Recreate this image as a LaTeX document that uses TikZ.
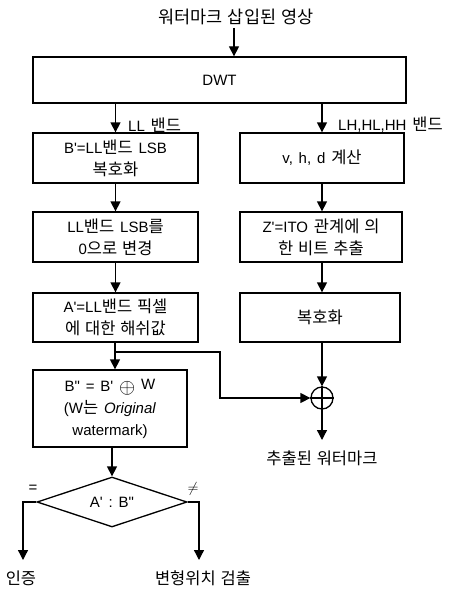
\documentclass[tikz,border=0pt]{standalone}
\usepackage{fontspec}
\setmainfont{Liberation Sans}[WordSpace=1.4,Ligatures=TeXOff]
\newfontfamily\krf{Noto Sans CJK KR}[WordSpace=1.3]
\newcommand{\kr}[1]{{\krf\fontsize{16.5}{22}\selectfont #1}}
\usetikzlibrary{arrows.meta,shapes.geometric}
\begin{document}
\begin{tikzpicture}[x=1pt,y=-1pt,
  box/.style={draw,line width=1.3pt,minimum width=165pt,minimum height=50pt,inner sep=0pt,align=center,font=\fontsize{15}{22}\selectfont},
  arr/.style={line width=1.3pt,-{Triangle[width=10pt,length=10pt]}},
  ln/.style={line width=1.3pt},
  lbl/.style={font=\fontsize{15}{16}\selectfont,inner sep=0pt}]
\useasboundingbox (0,0) rectangle (458,594);
\node[lbl] (title) at (236,17) {{\krf\fontsize{17.5}{20}\selectfont 워터마크 삽입된 영상}};
\node[box,minimum width=373pt,minimum height=46pt] (dwt) at (219.5,80) {DWT};
\node[box] (b1) at (115.5,158) {B'=LL\kr{밴드} LSB\\\kr{복호화}};
\node[box,minimum width=164pt] (r1) at (322,158) {v, h, d \kr{계산}};
\node[box] (b2) at (115.5,237) {LL\kr{밴드} LSB\kr{를}\\0\kr{으로 변경}};
\node[box,minimum width=162pt] (r2) at (321,237) {Z'=ITO \kr{관계에 의}\\\kr{한 비트 추출}};
\node[box,minimum height=49pt] (b3) at (115.5,317.5) {A'=LL\kr{밴드 픽셀}\\\kr{에 대한 해쉬값}};
\node[box,minimum width=160pt,minimum height=49pt] (r3) at (320,317.5) {\kr{복호화}};
\node[box,minimum width=154pt,minimum height=77pt] (b4) at (110,408.5) {B" = B' \raisebox{-2pt}{\fontsize{22}{22}\selectfont$\oplus$} \raisebox{2pt}{W}\\(W\kr{는} \textit{Original}\\watermark)};
\node[draw,circle,line width=1.3pt,minimum size=22pt,inner sep=0pt] (xor) at (322,398) {};
\draw[ln] (xor.north) -- (xor.south) (xor.west) -- (xor.east);
\node[lbl] (out) at (322,458) {\kr{추출된 워터마크}};
\node[draw,diamond,line width=1.3pt,shape aspect=3,minimum width=150pt,minimum height=50pt,inner sep=0pt,font=\fontsize{15}{16}\selectfont] (dia) at (112,502) {A' : B"};
\node[lbl,anchor=west] (llbl) at (128,125) {LL \kr{밴드}};
\node[lbl,anchor=west] (rlbl) at (338,125) {LH,HL,HH \kr{밴드}};
\node[lbl] (eq) at (33,489) {=};
\node[lbl] (ne) at (193,489) {$\neq$};
\node[lbl] (auth) at (21,578) {\kr{인증}};
\node[lbl] (det) at (203,578) {\kr{변형위치 검출}};
\coordinate (tin) at (234,28);
\coordinate (br) at (115,352);
\coordinate (bk) at (220,352);
\coordinate (lend) at (23,560);
\coordinate (rend) at (199,560);
\draw[arr] (tin) -- (dwt.north -| tin);
\draw[arr] (dwt.south -| b1) -- (b1.north);
\draw[arr] (dwt.south -| r1) -- (r1.north);
\draw[arr] (b1) ++(0,25) -- (b2.north);
\draw[arr] (b2) ++(0,25) -- (b3.north);
\draw[arr] (r1.south -| xor) -- (r2.north -| xor);
\draw[arr] (r2.south -| xor) -- (r3.north -| xor);
\draw[arr] (b3.south -| br) -- (b4.north -| br);
\draw[arr] (br) -- (bk) |- (xor.west);
\draw[arr] (r3.south -| xor) -- (xor.north);
\draw[arr] (xor.south) -- (322,440);
\draw[arr] (b4.south -| dia) -- (dia.north);
\draw[arr] (dia.west) -| (lend);
\draw[arr] (dia.east) -| (rend);
\end{tikzpicture}
\end{document}
